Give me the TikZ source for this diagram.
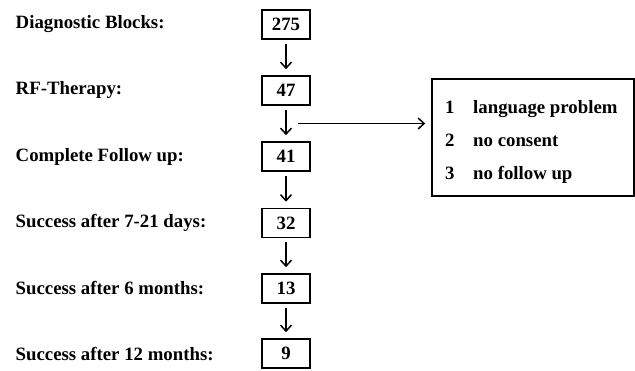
\documentclass[tikz,border=0pt]{standalone}
\usepackage{fontspec}
\setmainfont{Liberation Serif}
\usetikzlibrary{arrows.meta}
\begin{document}
\begin{tikzpicture}[x=1pt,y=-1pt,
  every node/.style={font=\fontsize{18.8}{22}\selectfont\bfseries},
  numbox/.style={draw,line width=1.6pt,minimum width=48pt,minimum height=29pt,inner sep=0pt},
  lbl/.style={anchor=base west,inner sep=0pt},
  tip/.style={-{Straight Barb[length=6pt,width=11pt,line width=1.5pt]}},
  flow/.style={tip,line width=1.5pt,shorten <=4pt,shorten >=6pt}]
\useasboundingbox (0,0) rectangle (635,370);
% boxes
\node[numbox] (b1) at (286,24.5) {275};
\node[numbox] (b2) at (286,90.5) {47};
\node[numbox] (b3) at (286,156.5) {41};
\node[numbox] (b4) at (286,223) {32};
\node[numbox] (b5) at (286,288.5) {13};
\node[numbox] (b6) at (286,353.5) {9};
% labels
\node[lbl] (l1) at (15.5,28.3) {Diagnostic Blocks:};
\node[lbl] (l2) at (15.5,94.5) {RF-Therapy:};
\node[lbl] (l3) at (15.5,161.5) {Complete Follow up:};
\node[lbl] (l4) at (15.5,227.5) {Success after 7-21 days:};
\node[lbl] (l5) at (15.5,294) {Success after 6 months:};
\node[lbl] (l6) at (15.5,360) {Success after 12 months:};
% arrows
\draw[flow] (b1) -- (b2);
\draw[flow] (b2) -- (b3);
\draw[flow] (b3) -- (b4);
\draw[flow] (b4) -- (b5);
\draw[flow] (b5) -- (b6);
% exclusion box
\node[draw,line width=1.6pt,minimum width=202pt,minimum height=117pt,inner sep=0pt] (ex) at (533,137.5) {};
\coordinate (s) at (298,123.5);
\draw[tip,line width=1.5pt,shorten >=6pt] (s) -- (s -| ex.west);
\node[lbl] (n1) at (445,113) {1};
\node[lbl] (t1) at (473,113) {language problem};
\node[lbl] (n2) at (445,146) {2};
\node[lbl] (t2) at (473,146) {no consent};
\node[lbl] (n3) at (445,179) {3};
\node[lbl] (t3) at (473,179) {no follow up};
\end{tikzpicture}
\end{document}
